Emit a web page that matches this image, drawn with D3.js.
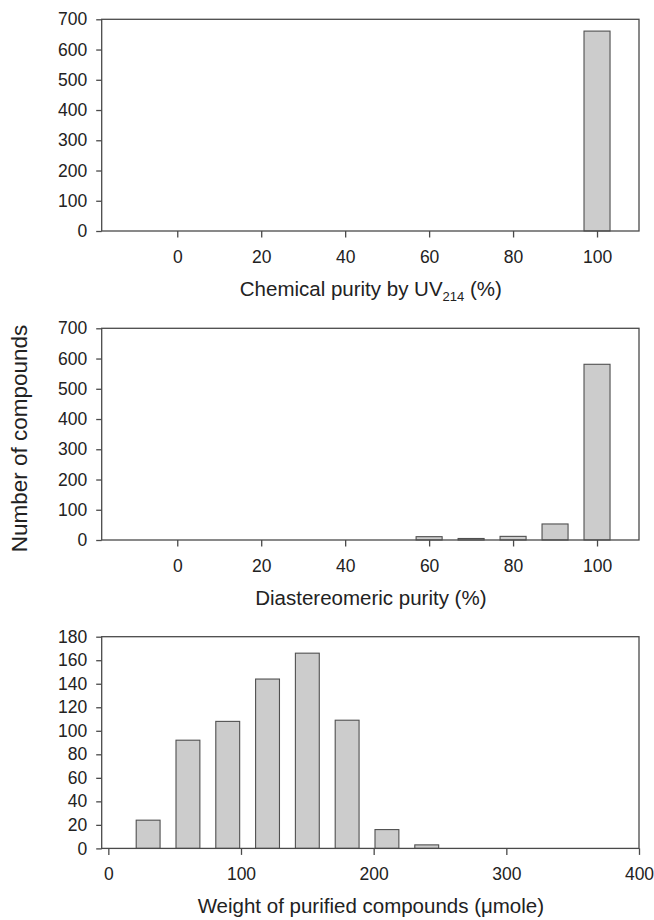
<!DOCTYPE html>
<html>
<head>
<meta charset="utf-8">
<script src="https://cdn.jsdelivr.net/npm/d3@7"></script>
<style>
body { margin: 0; background: #fff; }
svg { display: block; font-family: "Liberation Sans", Arial, sans-serif; }
</style>
</head>
<body>
<svg width="654" height="920"></svg>
<script>
// panel 1: chemical purity
var chemBins = [100],
    chemCounts = [661];
// panel 2: diastereomeric purity
var diaBins = [60, 70, 80, 90, 100],
    diaCounts = [11, 5, 12, 53, 581];
// panel 3: weight of purified compounds
var weightBins = [30, 60, 90, 120, 150, 180, 210, 240],
    weightCounts = [24, 92, 108, 144, 166, 109, 16, 3];

var purityTicks = [0, 20, 40, 60, 80, 100],
    countTicks = [0, 100, 200, 300, 400, 500, 600, 700],
    weightTicks = [0, 100, 200, 300, 400],
    weightCountTicks = [0, 20, 40, 60, 80, 100, 120, 140, 160, 180];

var svg = d3.select("svg"),
    left = 101.7,
    right = 639,
    h = 211.7;

var panels = [
  {top: 19.3, bins: chemBins, counts: chemCounts, xdom: [-18, 110], ydom: [0, 700],
   xticks: purityTicks, yticks: countTicks, barW: 6.2, title: ["Chemical purity by UV", "214", " (%)"]},
  {top: 328.3, bins: diaBins, counts: diaCounts, xdom: [-18, 110], ydom: [0, 700],
   xticks: purityTicks, yticks: countTicks, barW: 6.2, title: ["Diastereomeric purity (%)"]},
  {top: 636.7, bins: weightBins, counts: weightCounts, xdom: [-5, 400], ydom: [0, 180],
   xticks: weightTicks, yticks: weightCountTicks, barW: 18, title: ["Weight of purified compounds (\u03bcmole)"]}
];

panels.forEach(function(p) {
  var x = d3.scaleLinear().domain(p.xdom).range([left, right]),
      y = d3.scaleLinear().domain(p.ydom).range([p.top + h, p.top]);

  var g = svg.append("g");

  // bars
  g.selectAll(".bar")
    .data(p.bins.map(function(b, i) { return {bin: b, n: p.counts[i]}; }))
    .enter().append("rect")
    .attr("x", function(d) { return x(d.bin - p.barW / 2); })
    .attr("width", function(d) { return x(d.bin + p.barW / 2) - x(d.bin - p.barW / 2); })
    .attr("y", function(d) { return y(d.n); })
    .attr("height", function(d) { return y(0) - y(d.n); })
    .attr("fill", "#cccccc")
    .attr("stroke", "#505050")
    .attr("stroke-width", 1.1);

  // frame
  g.append("rect")
    .attr("x", left).attr("y", p.top)
    .attr("width", right - left).attr("height", h)
    .attr("fill", "none")
    .attr("stroke", "#4a4a4a")
    .attr("stroke-width", 1.3);

  var ya = g.append("g")
    .attr("transform", "translate(" + left + ",0)")
    .call(d3.axisLeft(y).tickValues(p.yticks).tickSize(5.5).tickSizeOuter(0).tickPadding(9));
  var xa = g.append("g")
    .attr("transform", "translate(0," + (p.top + h) + ")")
    .call(d3.axisBottom(x).tickValues(p.xticks).tickSize(6.5).tickSizeOuter(0).tickPadding(13));

  [ya, xa].forEach(function(a) {
    a.select(".domain").remove();
    a.selectAll("line").attr("stroke", "#4a4a4a").attr("stroke-width", 1.3);
    a.selectAll("text").attr("fill", "#222").style("font-size", "17.5px")
      .style("font-family", "'Liberation Sans', Arial, sans-serif");
  });

  // axis title
  var t = g.append("text")
    .attr("x", (left + right) / 2 + 0.5)
    .attr("y", p.top + h + 65)
    .attr("text-anchor", "middle")
    .attr("fill", "#222")
    .style("font-size", "20.5px");
  t.append("tspan").text(p.title[0]);
  if (p.title.length > 1) {
    t.append("tspan").attr("dy", 5).style("font-size", "13px").text(p.title[1]);
    t.append("tspan").attr("dy", -5).text(p.title[2]);
  }
});

svg.append("text")
  .attr("transform", "translate(27,438.5) rotate(-90)")
  .attr("text-anchor", "middle")
  .attr("fill", "#222")
  .style("font-size", "22.5px")
  .text("Number of compounds");
</script>
</body>
</html>
